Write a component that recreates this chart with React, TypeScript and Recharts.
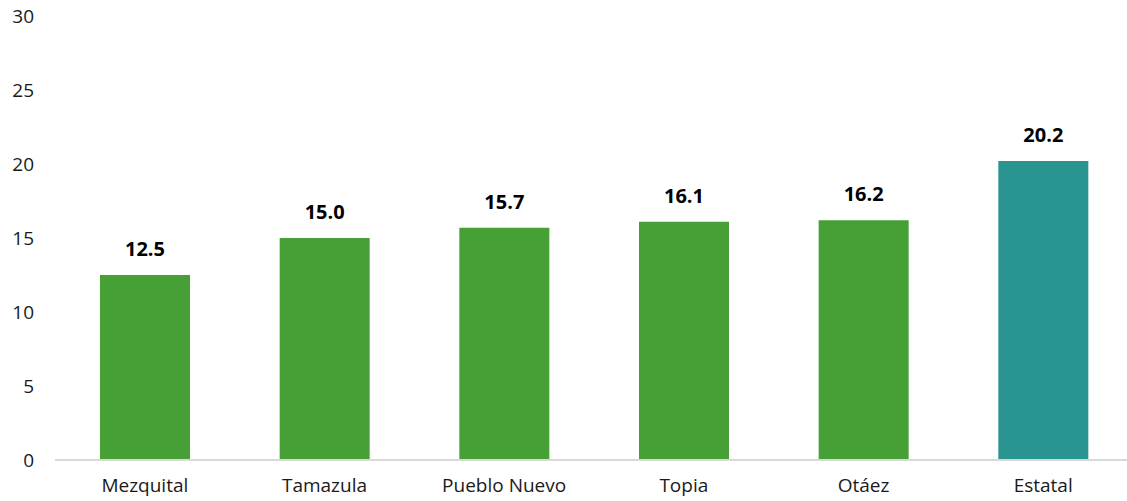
import { BarChart, Bar, XAxis, YAxis, Cell, LabelList } from 'recharts';

const categories = ['Mezquital', 'Tamazula', 'Pueblo Nuevo', 'Topia', 'Otáez', 'Estatal'];
const values = [12.5, 15.0, 15.7, 16.1, 16.2, 20.2];
const barColors = ['#46a035', '#46a035', '#46a035', '#46a035', '#46a035', '#2a9490'];
const yTicks = [0, 5, 10, 15, 20, 25, 30];

const data = categories.map((name, i) => ({ name, value: values[i], color: barColors[i] }));

const font = '"Open Sans", "Noto Sans", sans-serif';

export default function App() {
  return (
    <div style={{ position: 'absolute', left: 0, top: 0, background: '#fff', width: 1127, height: 501, overflow: 'hidden' }}>
      <BarChart
        width={1133}
        height={501}
        data={data}
        margin={{ top: 16, right: 0, left: 0, bottom: 0 }}
      >
        <XAxis
          dataKey="name"
          axisLine={{ stroke: '#d9d9d9', strokeWidth: 2 }}
          tickLine={false}
          tickSize={0}
          tickMargin={19}
          height={41}
          interval={0}
          tick={{ fontSize: 19, fill: '#1a1a1a', fontFamily: font }}
        />
        <YAxis
          domain={[0, 30]}
          ticks={yTicks}
          axisLine={false}
          tickLine={false}
          tickSize={0}
          tickMargin={21}
          width={55}
          tick={{ fontSize: 19, fill: '#1a1a1a', fontFamily: font }}
        />
        <Bar dataKey="value" barSize={90} isAnimationActive={false}>
          {data.map((d) => (
            <Cell key={d.name} fill={d.color} />
          ))}
          <LabelList
            dataKey="value"
            position="top"
            offset={19}
            formatter={(v: any) => Number(v).toFixed(1)}
            style={{ fontSize: 20, fontWeight: 700, fill: '#000', fontFamily: font }}
          />
        </Bar>
      </BarChart>
    </div>
  );
}
